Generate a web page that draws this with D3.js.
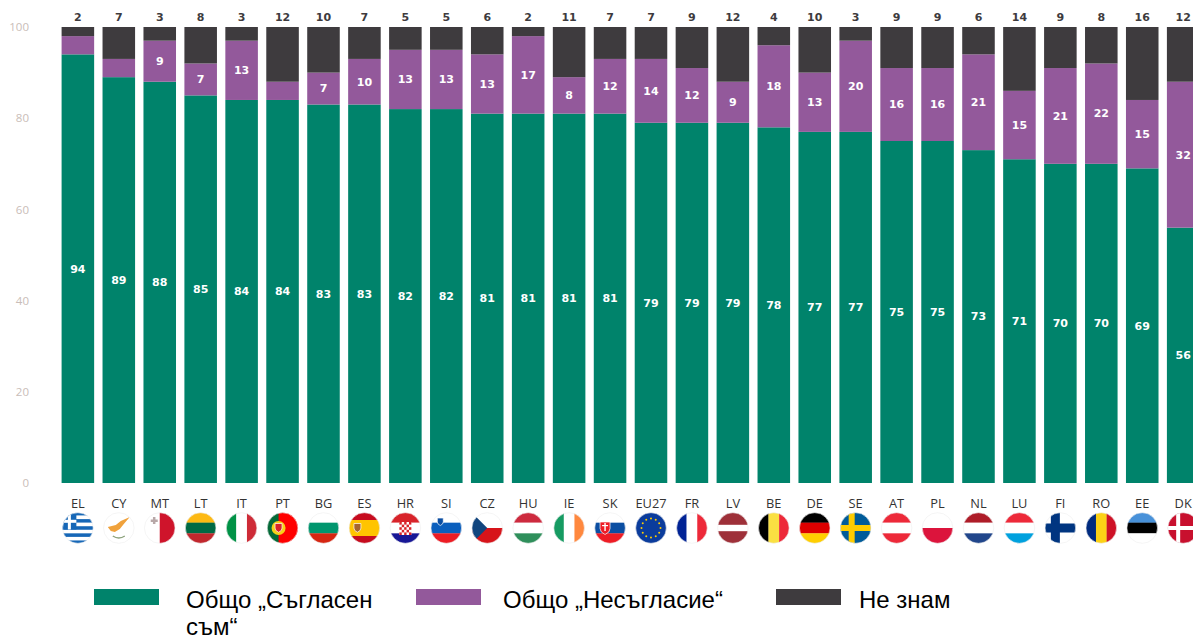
<!DOCTYPE html>
<html lang="bg">

<head>
    <meta charset="utf-8">
    <script src="https://d3js.org/d3.v7.min.js"></script>
    <style>
        html, body { margin: 0; background: #fff; overflow: hidden; }
        svg { display: block; }
    </style>
</head>

<body>
    <script>
        const countries = ["EL", "CY", "MT", "LT", "IT", "PT", "BG", "ES", "HR", "SI", "CZ", "HU", "IE", "SK", "EU27", "FR", "LV", "BE", "DE", "SE", "AT", "PL", "NL", "LU", "FI", "RO", "EE", "DK"];
        const agree = [94, 89, 88, 85, 84, 84, 83, 83, 82, 82, 81, 81, 81, 81, 79, 79, 79, 78, 77, 77, 75, 75, 73, 71, 70, 70, 69, 56];
        const disagree = [4, 4, 9, 7, 13, 4, 7, 10, 13, 13, 13, 17, 8, 12, 14, 12, 9, 18, 13, 20, 16, 16, 21, 15, 21, 22, 15, 32];
        const dontKnow = [2, 7, 3, 8, 3, 12, 10, 7, 5, 5, 6, 2, 11, 7, 7, 9, 12, 4, 10, 3, 9, 9, 6, 14, 9, 8, 16, 12];
        const yTicks = [0, 20, 40, 60, 80, 100];

        const width = 1193;
        const height = 637;
        const green = "#00836b";
        const purple = "#93599b";
        const dark = "#3e3b3e";

        const svg = d3.select("body").append("svg")
            .attr("width", width)
            .attr("height", height);

        // bands run past the right edge, the last bar is cut off like in the original
        const x = d3.scaleBand()
            .domain(countries)
            .range([57.5, 57.5 + 40.93 * countries.length])
            .paddingInner(0.205)
            .paddingOuter(0.1);

        const y = d3.scaleLinear()
            .domain([0, 100])
            .range([483, 27]);

        // y axis, only the labels are visible
        const yAxis = svg.append("g")
            .attr("transform", "translate(29,0)")
            .call(d3.axisLeft(y).tickValues(yTicks).tickSize(0).tickPadding(0));
        yAxis.select(".domain").remove();
        yAxis.selectAll("text")
            .style("font-family", "'Open Sans'")
            .style("font-size", "11.5px")
            .style("fill", "#c9bdb8");

        // stacked bars
        const rows = countries.map((c, i) => ({ c: c, agree: agree[i], disagree: disagree[i], dontKnow: dontKnow[i] }));
        const keys = ["agree", "disagree", "dontKnow"];
        const colour = d3.scaleOrdinal().domain(keys).range([green, purple, dark]);
        const stacked = d3.stack().keys(keys)(rows);

        const layers = svg.selectAll("g.layer")
            .data(stacked)
            .enter()
            .append("g")
            .attr("class", "layer")
            .attr("fill", d => colour(d.key));

        layers.selectAll("rect")
            .data(d => d)
            .enter()
            .append("rect")
            .attr("x", d => x(d.data.c))
            .attr("y", d => y(d[1]))
            .attr("width", x.bandwidth())
            .attr("height", d => y(d[0]) - y(d[1]));

        // white labels inside green and purple, the 4s do not get one
        layers.filter(d => d.key !== "dontKnow")
            .selectAll("text")
            .data(d => d.filter(p => p[1] - p[0] > 4))
            .enter()
            .append("text")
            .attr("x", d => x(d.data.c) + x.bandwidth() / 2)
            .attr("y", d => y((d[0] + d[1]) / 2))
            .attr("dy", ".35em")
            .attr("text-anchor", "middle")
            .attr("fill", "#fff")
            .style("font-family", "'DejaVu Sans'")
            .style("font-weight", "bold")
            .style("font-size", "11px")
            .text(d => d[1] - d[0]);

        // don't know values sit above the bars
        svg.append("g").selectAll("text")
            .data(rows)
            .enter()
            .append("text")
            .attr("x", d => x(d.c) + x.bandwidth() / 2)
            .attr("y", y(100) - 6.5)
            .attr("text-anchor", "middle")
            .attr("fill", dark)
            .style("font-family", "'DejaVu Sans'")
            .style("font-weight", "bold")
            .style("font-size", "11px")
            .text(d => d.dontKnow);

        // country codes
        svg.append("g").selectAll("text")
            .data(countries)
            .enter()
            .append("text")
            .attr("x", d => x(d) + x.bandwidth() / 2)
            .attr("y", 507.5)
            .attr("text-anchor", "middle")
            .attr("fill", "#333")
            .style("font-family", "'Open Sans'")
            .style("font-size", "12.8px")
            .text(d => d);

        // flag helpers, everything is drawn in a -15..15 box and clipped to a circle
        function rect(g, fill, rx, ry, rw, rh) {
            g.append("rect").attr("x", rx).attr("y", ry).attr("width", rw).attr("height", rh).attr("fill", fill);
        }
        function hStripes(g, cols, sizes) {
            const total = d3.sum(sizes || cols.map(() => 1));
            let pos = -16;
            cols.forEach((col, i) => {
                const h = 32 * (sizes ? sizes[i] : 1) / total;
                rect(g, col, -16, pos, 32, h + 0.2);
                pos += h;
            });
        }
        function vStripes(g, cols) {
            cols.forEach((col, i) => rect(g, col, -16 + 32 * i / cols.length, -16, 32 / cols.length + 0.2, 32));
        }
        function cross(g, bg, col, cx, w) {
            rect(g, bg, -16, -16, 32, 32);
            rect(g, col, cx - w / 2, -16, w, 32);
            rect(g, col, -16, -w / 2, 32, w);
        }
        function shield(g, fill, sx, sy, s) {
            g.append("path")
                .attr("d", `M${sx - s},${sy - s}H${sx + s}V${sy + s * 0.3}Q${sx + s},${sy + s * 1.1} ${sx},${sy + s * 1.5}Q${sx - s},${sy + s * 1.1} ${sx - s},${sy + s * 0.3}Z`)
                .attr("fill", fill)
                .attr("stroke", "#fff")
                .attr("stroke-width", 0.7);
        }

        const flags = {
            EL: g => {
                hStripes(g, ["#1667b7", "#fff", "#1667b7", "#fff", "#1667b7", "#fff", "#1667b7", "#fff", "#1667b7"]);
                rect(g, "#1667b7", -16, -16, 14.5, 17.5);
                rect(g, "#fff", -10, -16, 3, 17.5);
                rect(g, "#fff", -16, -8.2, 14.5, 3);
            },
            CY: g => {
                rect(g, "#fff", -16, -16, 32, 32);
                g.append("path").attr("d", "M-11,-1 L-3,-3 L2,-7 L11,-11 L5,-4 L1,1 L-4,4 L-8,3 Z").attr("fill", "#f0a23c");
                g.append("path").attr("d", "M-6,8 Q0,12 6,8").attr("fill", "none").attr("stroke", "#8ca27c").attr("stroke-width", 1.5);
            },
            MT: g => {
                vStripes(g, ["#fff", "#cf142b"]);
                rect(g, "#b8a8a8", -9, -8.5, 7, 2.5);
                rect(g, "#b8a8a8", -6.8, -11, 2.5, 7);
            },
            LT: g => hStripes(g, ["#fdb913", "#006a44", "#c1272d"]),
            IT: g => vStripes(g, ["#009246", "#fff", "#ce2b37"]),
            PT: g => {
                vStripes(g, ["#046a38", "#ff0000"]);
                rect(g, "#ff0000", -4, -16, 20, 32);
                g.append("circle").attr("cx", -4).attr("r", 7).attr("fill", "#f7d117");
                shield(g, "#d8232a", -4, -1, 3.5);
            },
            BG: g => hStripes(g, ["#fff", "#00966e", "#d62612"]),
            ES: g => {
                hStripes(g, ["#c60b1e", "#ffc400", "#c60b1e"], [1, 2, 1]);
                shield(g, "#a5662f", -7, -1, 3.5);
            },
            HR: g => {
                hStripes(g, ["#d8232a", "#fff", "#171796"]);
                rect(g, "#fff", -6, -6, 12, 13);
                d3.range(5).forEach(r => d3.range(5).forEach(c => {
                    if ((r + c) % 2 === 0) rect(g, "#d8232a", -6 + c * 2.4, -6 + r * 2.6, 2.4, 2.6);
                }));
            },
            SI: g => {
                hStripes(g, ["#fff", "#0b5fbd", "#ed1c24"]);
                shield(g, "#0b4ea2", -6, -7, 3);
            },
            CZ: g => {
                hStripes(g, ["#fff", "#d7141a"]);
                g.append("path").attr("d", "M-16,-16 L0,0 L-16,16 Z").attr("fill", "#11457e");
            },
            HU: g => hStripes(g, ["#cd2a3e", "#fff", "#2f8f5b"]),
            IE: g => vStripes(g, ["#169b62", "#fff", "#ff883e"]),
            SK: g => {
                hStripes(g, ["#fff", "#0b4ea2", "#ee1c25"]);
                shield(g, "#ee1c25", -5, -1, 5);
                rect(g, "#fff", -5.7, -5, 1.4, 8);
                rect(g, "#fff", -8, -3, 6, 1.2);
            },
            EU27: g => {
                rect(g, "#0b3c9c", -16, -16, 32, 32);
                d3.range(12).forEach(i => {
                    g.append("circle")
                        .attr("cx", 9.5 * Math.cos(i * Math.PI / 6))
                        .attr("cy", 9.5 * Math.sin(i * Math.PI / 6))
                        .attr("r", 1)
                        .attr("fill", "#fc0");
                });
            },
            FR: g => vStripes(g, ["#002395", "#fff", "#ed2939"]),
            LV: g => hStripes(g, ["#9e3039", "#fff", "#9e3039"], [2, 1, 2]),
            BE: g => vStripes(g, ["#000", "#fae042", "#ed2939"]),
            DE: g => hStripes(g, ["#000", "#dd0000", "#ffce00"]),
            SE: g => {
                rect(g, "#005b99", -16, -16, 32, 32);
                rect(g, "#fecc00", -7, -16, 6, 32);
                rect(g, "#fecc00", -16, -3, 32, 6);
            },
            AT: g => hStripes(g, ["#ed2939", "#fff", "#ed2939"]),
            PL: g => hStripes(g, ["#fff", "#dc143c"]),
            NL: g => hStripes(g, ["#ae1c28", "#fff", "#21468b"]),
            LU: g => hStripes(g, ["#ed2939", "#fff", "#00a1de"]),
            FI: g => cross(g, "#fff", "#003580", -5, 9),
            RO: g => vStripes(g, ["#002b7f", "#fcd116", "#ce1126"]),
            EE: g => hStripes(g, ["#4891d9", "#000", "#fff"]),
            DK: g => cross(g, "#c8102e", "#fff", -5, 4)
        };

        svg.append("defs").append("clipPath")
            .attr("id", "flagClip")
            .append("circle")
            .attr("r", 15.3);

        const flagGroups = svg.append("g").selectAll("g")
            .data(countries)
            .enter()
            .append("g")
            .attr("transform", d => "translate(" + (x(d) + x.bandwidth() / 2) + ",528)");

        flagGroups.append("g")
            .attr("clip-path", "url(#flagClip)")
            .each(function (d) { flags[d](d3.select(this)); });

        // faint ring so the white parts still read as a circle
        flagGroups.append("circle")
            .attr("r", 15.3)
            .attr("fill", "none")
            .attr("stroke", "#eeeeee")
            .attr("stroke-width", 0.6);

        // legend
        const legendItems = [
            { label: ["Общо „Съгласен", "съм“"], colour: green, left: 94, text: 186 },
            { label: ["Общо „Несъгласие“"], colour: purple, left: 416, text: 503 },
            { label: ["Не знам"], colour: dark, left: 776, text: 859 }
        ];

        const legend = svg.append("g").selectAll("g")
            .data(legendItems)
            .enter()
            .append("g");

        legend.append("rect")
            .attr("x", d => d.left)
            .attr("y", 589)
            .attr("width", 65)
            .attr("height", 16)
            .attr("fill", d => d.colour);

        legend.each(function (d) {
            const t = d3.select(this).append("text")
                .attr("fill", "#000")
                .style("font-family", "'Liberation Sans'")
                .style("font-size", "24px");
            d.label.forEach((line, i) => {
                t.append("tspan")
                    .attr("x", d.text)
                    .attr("y", 608 + i * 26.5)
                    .text(line);
            });
        });
    </script>
</body>

</html>
